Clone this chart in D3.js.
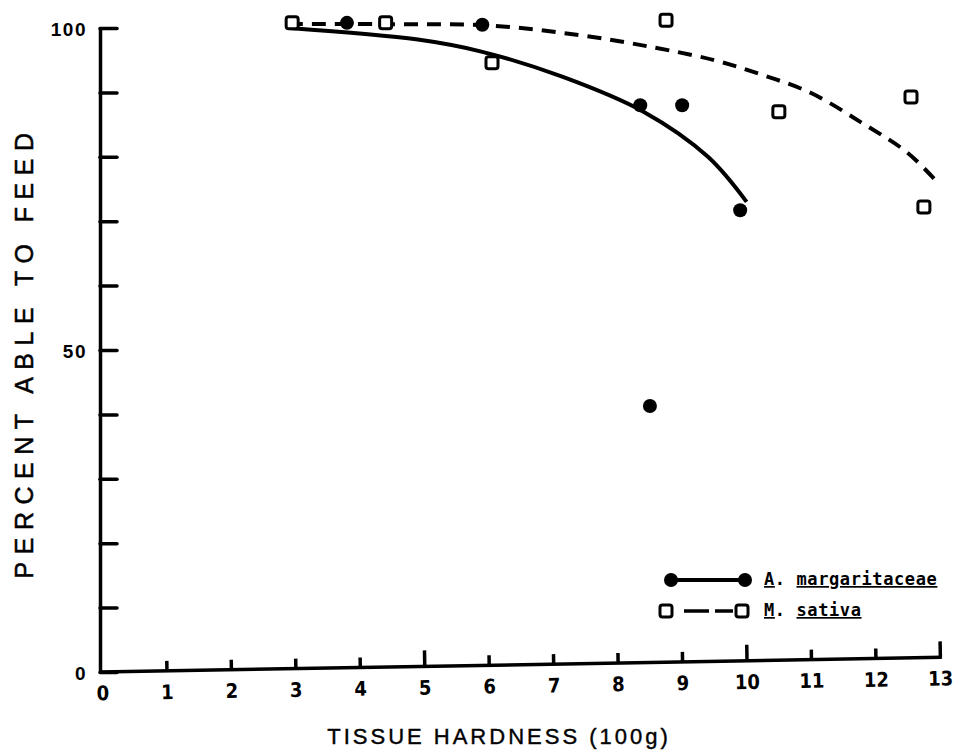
<!DOCTYPE html>
<html>
<head>
<meta charset="utf-8">
<script src="https://cdn.jsdelivr.net/npm/d3@7"></script>
<style>
  body { margin: 0; background: #fff; }
  svg text { fill: #000; }
</style>
</head>
<body>
<div id="chart"></div>
<script>
var svgWidth = 954;
var svgHeight = 750;

var margX = [3.8, 5.9, 8.35, 9.0, 9.9, 8.5];
var margY = [100.8, 100.5, 88, 88, 71.7, 41.3];
var sativaX = [2.95, 4.4, 6.05, 8.75, 10.5, 12.55, 12.75];
var sativaY = [100.8, 100.8, 94.6, 101.2, 87, 89.3, 72.2];

// fitted curves as drawn in the figure
var margFitX = [2.9, 4.9, 5.9, 7.15, 8.4, 9.4, 10.0];
var margFitY = [100, 98.2, 96.3, 92.4, 87, 80, 73];
var sativaFitX = [2.9, 4.5, 6.0, 7.4, 8.55, 9.5, 10.25, 11.0, 11.8, 12.5, 13.0];
var sativaFitY = [100.6, 100.6, 100.4, 98.9, 97.0, 95.0, 92.7, 89.9, 85.2, 80.6, 75.6];

var xTicks = [0, 1, 2, 3, 4, 5, 6, 7, 8, 9, 10, 11, 12, 13];
var yTicks = [0, 10, 20, 30, 40, 50, 60, 70, 80, 90, 100];
var yLabels = [0, 50, 100];

var legendNames = ["A. margaritaceae", "M. sativa"];

var svg = d3.select("#chart")
  .append("svg")
  .attr("width", svgWidth)
  .attr("height", svgHeight);

var xScale = d3.scaleLinear().domain([0, 13]).range([102, 940]);
var yScale = d3.scaleLinear().domain([0, 100]).range([672, 28]);

// y axis (ticks point into the plot)
var leftAxis = d3.axisLeft(yScale)
  .tickValues(yTicks)
  .tickSizeInner(-17)
  .tickSizeOuter(0)
  .tickPadding(13)
  .tickFormat(d => yLabels.indexOf(d) >= 0 ? d : "");

var yAxis = svg.append("g")
  .attr("transform", "translate(100, 0)")
  .call(leftAxis);

yAxis.select(".domain").attr("stroke", "#000").attr("stroke-width", 3.5);
yAxis.selectAll(".tick line").attr("stroke", "#000").attr("stroke-width", 3.5)
  .attr("stroke-linecap", "round");
yAxis.selectAll(".tick text")
  .attr("dy", "0.4em")
  .style("font-family", "'Liberation Sans', Arial, sans-serif")
  .style("font-weight", "bold")
  .style("font-size", "19px")
  .style("letter-spacing", "1.5px");

// x axis, slightly tilted like the scan
var bottomAxis = d3.axisBottom(xScale)
  .tickValues(xTicks)
  .tickSizeOuter(0)
  .tickPadding(8);

var xAxis = svg.append("g")
  .attr("transform", "translate(0, 672) rotate(-1.0, 102, 0)")
  .call(bottomAxis);

xAxis.select(".domain").attr("d", `M${xScale(0) - 2},0H${xScale(13) + 2}`)
  .attr("stroke", "#000").attr("stroke-width", 3.5);
xAxis.selectAll(".tick line")
  .attr("y2", d => d === 0 ? 0 : (d % 5 === 0 || d === 13 ? -16 : -10))
  .attr("stroke", "#000").attr("stroke-width", 3.5);
xAxis.selectAll(".tick text")
  .style("font-family", "'Liberation Sans Narrow', 'DejaVu Sans Condensed', sans-serif")
  .style("font-weight", "bold")
  .style("font-size", "20px");

// axis titles
svg.append("text")
  .attr("transform", "translate(33, 352) rotate(-90)")
  .attr("text-anchor", "middle")
  .style("font-family", "'Liberation Sans', Arial, sans-serif")
  .style("font-size", "25px")
  .style("letter-spacing", "7.5px")
  .style("stroke", "#000")
  .style("stroke-width", 0.5)
  .text("PERCENT ABLE TO FEED");

svg.append("text")
  .attr("x", 499)
  .attr("y", 744)
  .attr("text-anchor", "middle")
  .style("font-family", "'Liberation Sans', Arial, sans-serif")
  .style("font-size", "22px")
  .style("letter-spacing", "3px")
  .style("stroke", "#000")
  .style("stroke-width", 0.4)
  .text("TISSUE HARDNESS (100g)");

// fitted curves
var line = d3.line()
  .x(d => xScale(d[0]))
  .y(d => yScale(d[1]))
  .curve(d3.curveCatmullRom);

svg.append("path")
  .datum(d3.zip(margFitX, margFitY))
  .attr("d", line)
  .attr("fill", "none")
  .attr("stroke", "#000")
  .attr("stroke-width", 4);

svg.append("path")
  .datum(d3.zip(sativaFitX, sativaFitY))
  .attr("d", line)
  .attr("fill", "none")
  .attr("stroke", "#000")
  .attr("stroke-width", 4)
  .attr("stroke-dasharray", "14,9");

// markers
function drawDot(g, cx, cy) {
  g.append("circle")
    .attr("cx", cx).attr("cy", cy).attr("r", 7)
    .attr("fill", "#000");
}

function drawSquare(g, cx, cy) {
  g.append("rect")
    .attr("x", cx - 6).attr("y", cy - 6)
    .attr("width", 12).attr("height", 12)
    .attr("rx", 2.5)
    .attr("fill", "#fff")
    .attr("stroke", "#000")
    .attr("stroke-width", 3);
}

var marks = svg.append("g");
d3.zip(sativaX, sativaY).forEach(function(d) {
  drawSquare(marks, xScale(d[0]), yScale(d[1]));
});
d3.zip(margX, margY).forEach(function(d) {
  drawDot(marks, xScale(d[0]), yScale(d[1]));
});

// legend
var legend = svg.append("g");

legend.append("line")
  .attr("x1", 672).attr("x2", 745).attr("y1", 580).attr("y2", 580)
  .attr("stroke", "#000").attr("stroke-width", 4);
drawDot(legend, 671, 580);
drawDot(legend, 745, 580);

legend.append("line")
  .attr("x1", 684).attr("x2", 733).attr("y1", 611).attr("y2", 611)
  .attr("stroke", "#000").attr("stroke-width", 3.5)
  .attr("stroke-dasharray", "25,6,18");
drawSquare(legend, 666, 611);
drawSquare(legend, 742, 611);

var legendText = [[764, 585], [764, 616]];
legendNames.forEach(function(name, i) {
  var parts = name.split(" ");
  var t = legend.append("text")
    .attr("x", legendText[i][0])
    .attr("y", legendText[i][1])
    .style("font-family", "'DejaVu Sans Mono', 'Liberation Mono', monospace")
    .style("font-weight", "bold")
    .style("font-size", "17px")
    .style("letter-spacing", "0.6px");
  t.append("tspan").style("text-decoration", "underline").text(parts[0].replace(".", ""));
  t.append("tspan").text(". ");
  t.append("tspan").style("text-decoration", "underline").text(parts[1]);
});
</script>
</body>
</html>
